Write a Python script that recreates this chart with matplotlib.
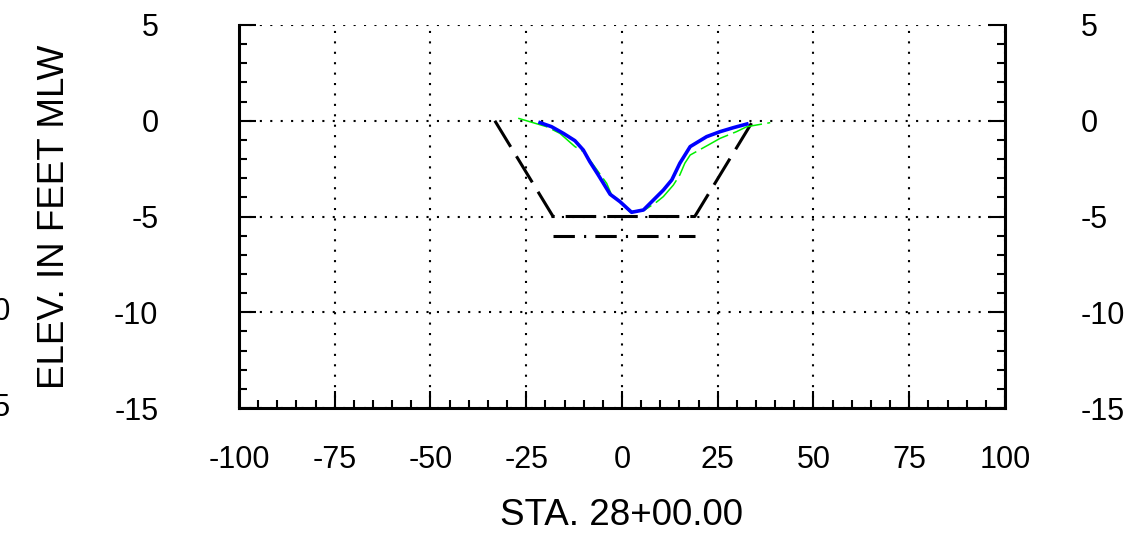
import matplotlib
matplotlib.use("Agg")
from matplotlib import pyplot as plt
from matplotlib.ticker import MultipleLocator
import matplotlib.transforms as mtransforms

plt.rcParams['font.family'] = ['Liberation Sans', 'DejaVu Sans']
plt.rcParams['axes.unicode_minus'] = False

# design template (dashed) and overdepth (dash-dot)
template_x = [-33.2, -18.0, 19.0, 34.2]
template_y = [0.0, -5.0, -5.0, 0.0]
overdepth_x = [-18.0, 19.0]
overdepth_y = [-6.0, -6.0]

# surveyed profiles
blue_x = [-21.4, -18.4, -15.3, -12.3, -10.1, -8.4, -6.2, -3.1, -0.5, 2.5,
          5.6, 8.2, 10.8, 13.0, 15.1, 17.8, 22.1, 25.6, 29.1, 32.6]
blue_y = [-0.10, -0.31, -0.66, -1.04, -1.53, -2.14, -2.83, -3.84, -4.23, -4.78,
          -4.66, -4.14, -3.62, -3.09, -2.22, -1.35, -0.83, -0.57, -0.36, -0.17]
green_x = [-27.1, -19.7, -16.2, -12.3, -10.1, -8.4, -6.2, -4.0, -2.7, -1.4,
           2.0, 6.0, 9.0, 10.8, 13.4, 15.1, 16.4, 17.8, 22.5, 25.6, 29.9, 32.6, 38.7]
green_y = [0.13, -0.31, -0.66, -1.35, -1.61, -2.05, -2.66, -3.27, -3.88, -4.05,
           -4.75, -4.65, -4.25, -3.96, -3.36, -2.83, -2.22, -1.79, -1.27, -0.92, -0.57, -0.31, -0.10]

xticks = [-100, -75, -50, -25, 0, 25, 50, 75, 100]
yticks = [5, 0, -5, -10, -15]

fig = plt.figure(figsize=(11.29, 5.40), dpi=100)
ax = fig.add_axes([239/1129, 1-408/540, (1005-239)/1129, (408-25)/540])

ax.plot(green_x, green_y, color='#00ee00', lw=1.1, linestyle=(0, (20, 3.5)), zorder=3)
ax.plot(blue_x, blue_y, color='#0000ff', lw=2.6, zorder=4)
ax.plot(template_x, template_y, color='black', lw=2.2, linestyle=(0, (10, 3.6)), zorder=2)
ax.plot(overdepth_x, overdepth_y, color='black', lw=2.2,
        linestyle=(0, (7, 3, 0.7, 3)), zorder=2)

ax.set_xlim(-100, 100)
ax.set_ylim(-15, 5)
ax.set_xticks(xticks)
ax.set_yticks(yticks)
ax.xaxis.set_minor_locator(MultipleLocator(5))
ax.yaxis.set_minor_locator(MultipleLocator(1))

ax.grid(True, which='major', color='black', lw=1.5, linestyle=(0, (1, 4)))
ax.spines['top'].set_visible(False)
for s in ['left', 'right', 'bottom']:
    ax.spines[s].set_linewidth(2.2)

ax.tick_params(which='both', direction='in', width=1.5, colors='black')
ax.tick_params(which='major', length=12)
ax.tick_params(which='minor', length=6)
ax.tick_params(axis='x', which='both', top=False, labelsize=22, pad=27)
ax.tick_params(axis='y', which='both', left=True, right=True,
               labelleft=True, labelright=True, labelsize=22)
ax.yaxis.set_tick_params(which='major', pad=58)
# right labels sit a bit closer to the frame
for t in ax.yaxis.get_major_ticks():
    t.label2.set_transform(t.label2.get_transform() +
                           mtransforms.ScaledTranslation(-5/100, 0, fig.dpi_scale_trans))

ax.set_xlabel('STA. 28+00.00', fontsize=26.5, labelpad=16)
ax.set_ylabel('ELEV. IN FEET MLW', fontsize=26.5, va='center')
ax.yaxis.set_label_coords((55 - 239) / 766, 0.5)

# labels of the neighbouring panel, cut off at the left edge (as in the source)
trans = mtransforms.blended_transform_factory(fig.transFigure, ax.transData)
for v in [-10, -15]:
    fig.text(-33/1129, v, str(v), transform=trans, ha='left', va='center', fontsize=22)

fig.savefig('out.png', dpi=100)
